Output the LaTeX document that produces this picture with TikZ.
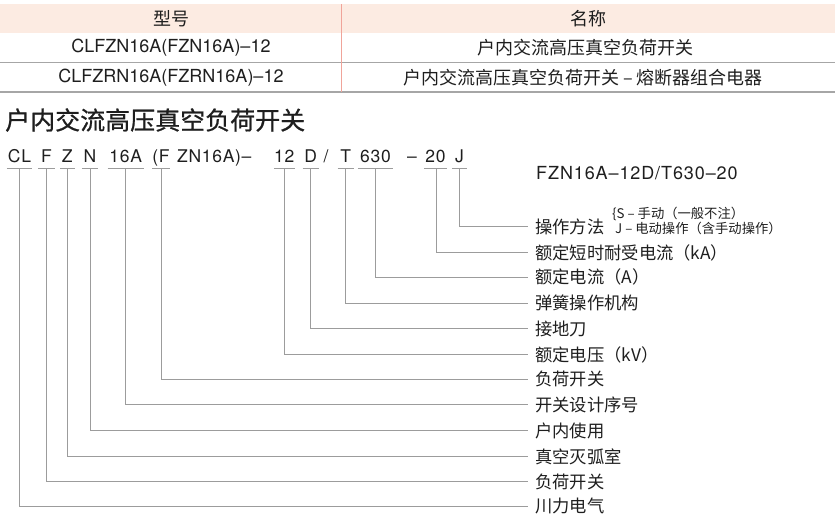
\documentclass[tikz,border=0pt]{standalone}
\usepackage{fontspec}
\setmainfont{TeX Gyre Heros}
\newfontfamily\cjk{Noto Sans CJK SC}
\definecolor{hdrbg}{HTML}{FCEBE2}
\definecolor{divred}{HTML}{F0A49A}
\definecolor{rulegray}{HTML}{A6A6A6}
\definecolor{linegray}{HTML}{9C9C9C}
\definecolor{ink}{HTML}{1E1E1E}
\tikzset{
  cell/.style={inner sep=0pt, text=ink, font=\fontsize{18}{20}\selectfont},
  cjkcell/.style={inner sep=0pt, text=ink, font=\cjk\fontsize{18}{20}\selectfont},
  title/.style={inner sep=0pt, anchor=west, text=ink, font=\cjk\fontsize{25}{28}\selectfont\addfontfeature{FakeBold=0.8}},
  seg/.style={inner sep=0pt, anchor=south, align=center, text depth=6pt, text=ink,
              font=\fontsize{17.5}{20}\selectfont\addfontfeature{LetterSpace=4}},
  plain/.style={inner sep=0pt, anchor=base, text=ink,
              font=\fontsize{17.5}{20}\selectfont\addfontfeature{LetterSpace=4}},
  lbl/.style={anchor=west, inner xsep=7pt, inner ysep=0pt, text=ink, font=\cjk\fontsize{17.3}{20}\selectfont},
  note/.style={anchor=west, inner sep=0pt, align=left, text=ink, font=\cjk\fontsize{13.3}{15}\selectfont},
  conn/.style={draw=linegray, line width=1pt},
  uline/.style={draw=linegray, line width=1pt},
}
\begin{document}
\begin{tikzpicture}[x=1pt,y=-1pt]
\useasboundingbox (0,0) rectangle (835,520);
% table
\fill[hdrbg] (0,4) rectangle (835,33);
\draw[rulegray, line width=1.2pt] (0,62.7) -- (835,62.7);
\draw[rulegray, line width=2pt] (0,92.3) -- (835,92.3);
\draw[divred, line width=1pt] (341.3,4) -- (341.3,92);
\node[cjkcell] (h1) at (171,18.5) {型号};
\node[cjkcell] (h2) at (588,18.5) {名称};
\node[cell] (r1a) at (171,48) {CLFZN16A(FZN16A)–12};
\node[cjkcell] (r1b) at (585,48) {户内交流高压真空负荷开关};
\node[cell] (r2a) at (171,78) {CLFZRN16A(FZRN16A)–12};
\node[cjkcell] (r2b) at (583,78) {户内交流高压真空负荷开关 – 熔断器组合电器};
% title
\node[title] (ttl) at (5,120) {户内交流高压真空负荷开关};
% code line
\node[seg, minimum width=25pt] (sCL) at (19.5,168.3) {CL};
\node[seg, minimum width=16pt] (sF) at (46.5,168.3) {F};
\node[seg, minimum width=14pt] (sZ) at (67.3,168.3) {Z};
\node[seg, minimum width=16pt] (sN) at (90,168.3) {N};
\node[seg, minimum width=36pt] (s16A) at (125.7,168.3) {16A};
\node[seg, minimum width=15pt] (sPF) at (161,168.3) {(F};
\node[plain, anchor=base west] (sZN) at (177,162.3) {ZN16A)–};
\node[seg, minimum width=18pt] (s12) at (284.3,168.3) {12};
\node[seg, minimum width=16pt] (sD) at (310.7,168.3) {D};
\node[plain] (sSl) at (326,162.3) {/};
\node[seg, minimum width=16pt] (sT) at (345.7,168.3) {T};
\node[seg, minimum width=35pt] (s630) at (375.5,168.3) {630};
\node[plain] (sDash) at (412,162.3) {–};
\node[seg, minimum width=22pt] (s20) at (435.5,168.3) {20};
\node[seg, minimum width=14pt] (sJ) at (459.5,168.3) {J};
\foreach \n in {sCL,sF,sZ,sN,s16A,sPF,s12,sD,sT,s630,s20,sJ}
  \draw[uline] (\n.south west) -- (\n.south east);
% example model
\node[inner sep=0pt, anchor=west, text=ink, font=\fontsize{18}{20}\selectfont\addfontfeature{LetterSpace=5}] (ex) at (536,173) {FZN16A–12D/T630–20};
% labels
\node[lbl] (lJ) at (528,226.5) {操作方法};
\node[note] (opnote) at (612,221) {\{S – 手动（一般不注）\\\ J – 电动操作（含手动操作）};
\node[lbl] (l20) at (528,252.8) {额定短时耐受电流（kA）};
\node[lbl] (l630) at (528,277) {额定电流（A）};
\node[lbl] (lT) at (528,303) {弹簧操作机构};
\node[lbl] (lD) at (528,328.5) {接地刀};
\node[lbl] (l12) at (528,354.5) {额定电压（kV）};
\node[lbl] (lPF) at (528,379) {负荷开关};
\node[lbl] (l16A) at (528,404.5) {开关设计序号};
\node[lbl] (lN) at (528,430.5) {户内使用};
\node[lbl] (lZ) at (528,456.5) {真空灭弧室};
\node[lbl] (lF) at (528,481.5) {负荷开关};
\node[lbl] (lCL) at (528,506) {川力电气};
% connectors
\draw[conn] (sJ.south) |- (lJ.west);
\draw[conn] (s20.south) ++(1,0) |- (l20.west);
\draw[conn] (s630.south) |- (l630.west);
\draw[conn] (sT.south) |- (lT.west);
\draw[conn] (sD.south) |- (lD.west);
\draw[conn] (s12.south) |- (l12.west);
\draw[conn] (sPF.south) |- (lPF.west);
\draw[conn] (s16A.south) |- (l16A.west);
\draw[conn] (sN.south) |- (lN.west);
\draw[conn] (sZ.south) |- (lZ.west);
\draw[conn] (sF.south) |- (lF.west);
\draw[conn] (sCL.south) |- (lCL.west);
\end{tikzpicture}
\end{document}
